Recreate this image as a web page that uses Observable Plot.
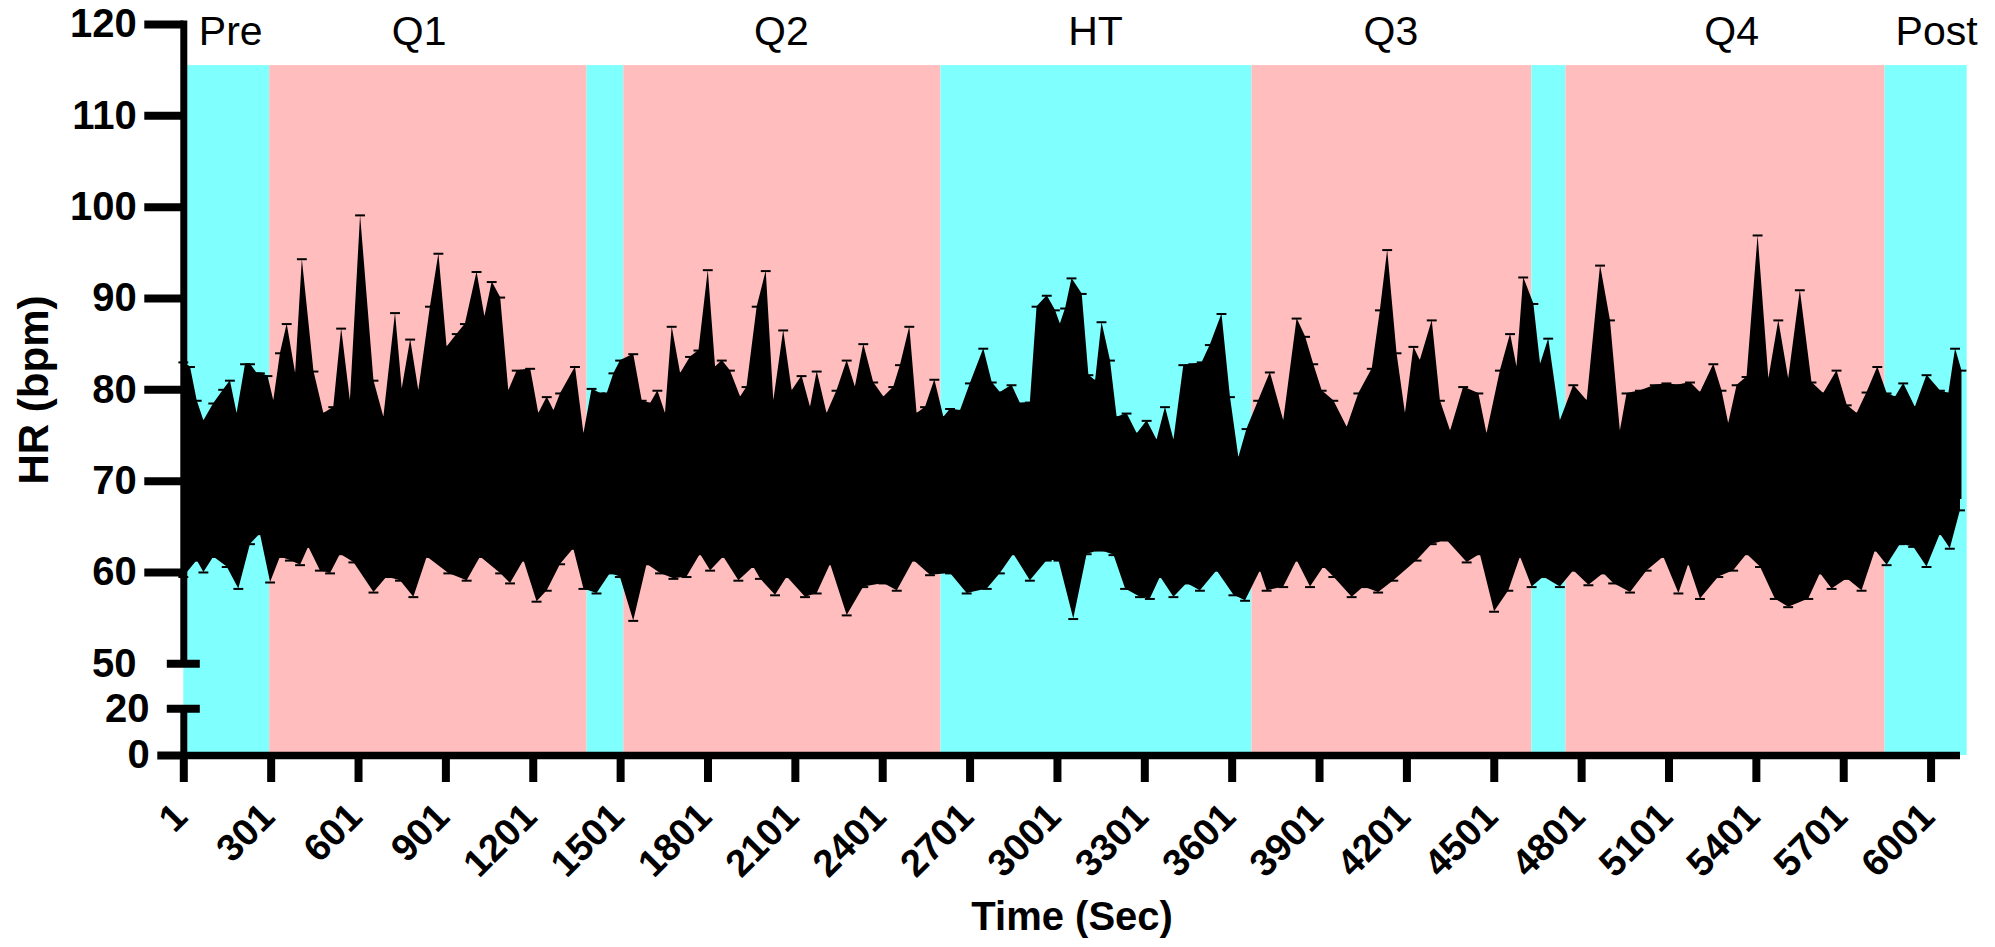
<!DOCTYPE html>
<html>
<head>
<meta charset="utf-8">
<script src="https://cdn.jsdelivr.net/npm/d3@7"></script>
<script src="https://cdn.jsdelivr.net/npm/@observablehq/plot@0.6"></script>
<style>
html, body { margin: 0; padding: 0; background: #ffffff; }
svg { display: block; }
</style>
</head>
<body>
<div id="chart"></div>
<script>
// ---- phases (background bands) ----
const phaseNames  = ["Pre", "Q1", "", "Q2", "HT", "Q3", "", "Q4", "Post"];
const phaseStart  = [1, 296, 1386, 1512, 2601, 3669, 4630, 4747, 5843];
const phaseEnd    = [296, 1386, 1512, 2601, 3669, 4630, 4747, 5843, 6125];
const phaseKind   = ["rest", "play", "rest", "play", "rest", "play", "rest", "play", "rest"];
const phaseLabelT = [162, 809, null, 2053, 3132, 4146, null, 5316, 6020];
const bandTop = 115.5;
const labelY = 117.75;

// ---- upper envelope of HR error bars (time in sec, bpm) ----
const upperT = [1,24,47,70,104,138,161,184,213,230,253,264,290,310,333,356,385,408,448,482,516,543,573,608,654,688,728,751,780,808,848,877,905,940,968,1008,1035,1060,1089,1117,1146,1192,1220,1249,1272,1295,1346,1375,1403,1432,1455,1478,1501,1546,1575,1604,1629,1655,1678,1707,1741,1770,1802,1827,1850,1878,1913,1935,1970,2001,2027,2061,2090,2124,2153,2176,2210,2244,2279,2307,2336,2370,2405,2439,2462,2494,2519,2548,2580,2611,2634,2668,2702,2748,2777,2805,2845,2874,2908,2931,2966,2994,3011,3029,3051,3086,3109,3132,3154,3183,3206,3240,3275,3309,3343,3372,3401,3435,3469,3498,3526,3566,3595,3624,3652,3692,3732,3778,3824,3853,3881,3910,3950,3996,4036,4082,4110,4135,4167,4196,4225,4247,4288,4316,4351,4396,4448,4476,4522,4557,4579,4602,4637,4660,4688,4728,4774,4820,4866,4900,4934,4957,5003,5054,5094,5129,5175,5209,5255,5283,5306,5335,5369,5407,5444,5478,5512,5552,5592,5632,5678,5713,5747,5781,5818,5850,5879,5907,5947,5987,6033,6062,6085,6107];
const upperV = [83.0,82.5,78.8,76.6,78.5,80.0,81.0,77.4,82.8,82.8,81.8,81.8,81.5,78.8,84.0,87.2,81.8,94.3,82.0,77.4,78.1,86.7,78.8,99.1,81.0,77.0,88.4,80.1,85.5,79.9,89.1,94.9,84.7,86.1,87.2,92.9,88.0,91.8,90.1,79.9,82.1,82.3,77.4,79.2,77.7,79.6,82.5,75.2,80.1,79.6,79.6,81.8,83.2,83.9,78.8,78.5,79.9,77.4,86.9,81.8,83.6,84.3,93.1,82.5,83.2,82.1,79.2,80.3,89.1,93.0,78.8,86.5,79.9,81.5,78.1,82.0,77.4,79.9,83.2,80.3,85.0,80.8,79.2,80.3,82.7,86.9,77.4,78.1,81.1,77.0,77.9,77.7,80.7,84.5,80.8,79.7,80.5,78.5,78.6,89.1,90.3,88.7,87.2,88.9,92.2,90.5,81.6,81.0,87.4,83.2,77.0,77.4,75.2,76.6,74.5,78.1,74.5,82.7,82.8,83.0,84.9,88.3,79.2,72.6,75.7,78.8,81.9,76.6,87.8,85.8,82.8,79.9,78.8,75.9,79.6,82.3,88.7,95.3,84.0,77.4,84.7,83.2,87.6,78.8,75.5,80.3,79.6,75.2,82.1,86.1,82.5,92.3,89.4,82.8,85.6,76.6,80.5,78.8,93.6,87.6,75.5,79.6,79.9,80.5,80.7,80.5,80.8,79.7,82.8,79.9,76.3,80.5,81.4,96.9,81.2,87.6,81.2,90.9,80.8,79.6,82.1,78.3,77.4,79.7,82.5,79.6,79.2,80.7,78.1,81.6,79.9,79.6,84.5,82.1];

// ---- lower envelope of HR error bars ----
const lowerT = [1,47,70,104,150,190,230,264,299,333,367,402,430,470,505,539,585,654,699,745,791,837,911,974,1020,1089,1123,1169,1214,1249,1295,1340,1375,1420,1466,1500,1546,1592,1638,1684,1729,1775,1810,1855,1907,1958,1981,2033,2073,2136,2176,2222,2279,2336,2405,2451,2508,2565,2634,2691,2760,2805,2851,2908,2966,3006,3057,3103,3149,3195,3235,3286,3320,3355,3401,3446,3492,3549,3607,3647,3698,3721,3778,3824,3870,3916,3950,4013,4053,4104,4156,4236,4288,4339,4408,4453,4502,4551,4591,4631,4671,4728,4774,4826,4877,4911,4969,5026,5083,5135,5169,5209,5272,5323,5369,5415,5466,5512,5581,5621,5661,5713,5764,5810,5850,5896,5941,5987,6033,6067,6102];
const lowerV = [59.5,61.3,60.0,61.7,60.6,58.2,63.1,64.2,58.9,61.7,61.3,60.8,62.8,60.2,59.9,62.0,61.1,57.8,59.5,59.1,57.3,61.7,59.9,59.1,61.7,59.9,58.8,61.3,56.8,58.0,60.9,62.6,58.2,57.7,59.9,59.5,54.7,60.9,59.9,59.3,59.5,62.0,60.2,61.7,59.1,60.6,59.3,57.5,59.5,57.3,57.7,60.9,55.3,58.4,58.8,58.0,61.3,59.7,59.9,57.7,58.2,59.9,62.0,59.1,61.3,61.3,54.9,62.0,62.4,61.9,58.2,57.3,57.1,59.5,57.3,58.8,58.0,60.2,57.5,56.9,60.2,58.0,58.4,61.3,58.4,60.6,59.5,57.3,58.4,57.8,59.1,61.3,63.1,63.5,61.1,62.0,55.7,58.0,61.7,58.4,59.5,58.4,60.2,58.6,59.9,58.8,57.8,60.2,61.7,57.7,60.9,57.1,59.5,60.2,62.0,60.6,57.1,56.2,57.1,59.9,58.2,59.3,58.0,62.4,60.8,63.1,62.8,60.6,64.2,62.6,66.8];

// solid core of the band (overlapping so no seam)
const upperBase = 68;
const lowerTop = 72;

// ---- axis ticks ----
const xTicks = [1,301,601,901,1201,1501,1801,2101,2401,2701,3001,3301,3601,3901,4201,4501,4801,5101,5401,5701,6001];
const yTicksUpper = [60, 70, 80, 90, 100, 110, 120];

// ---- build tables ----
const colorOf = {rest: "#80ffff", play: "#ffbdbd"};
const phases = phaseNames.map((name, i) => ({name, start: phaseStart[i], end: phaseEnd[i], kind: phaseKind[i], lt: phaseLabelT[i]}));
const upper = upperT.map((t, i) => ({t, v: upperV[i]}));
const lower = lowerT.map((t, i) => ({t, v: lowerV[i]}));

const font = "'Liberation Sans', Arial, Helvetica, sans-serif";
const capHalf = 17;

const chart = Plot.plot({
  width: 1995,
  height: 947,
  marginLeft: 183.3,
  marginRight: 35,
  marginTop: 24,
  marginBottom: 192,
  style: {fontFamily: font, background: "#ffffff", color: "#000000", overflow: "visible"},
  x: {domain: [1, 6102]},
  y: {type: "linear", domain: [0, 20, 50, 120], range: [755, 708.3, 663.3, 24]},
  color: {type: "identity"},
  marks: [
    Plot.rectY(phases, {x1: "start", x2: "end", y1: 0, y2: bandTop, fill: d => colorOf[d.kind]}),
    Plot.areaY(upper, {x: "t", y1: upperBase, y2: "v", fill: "#000000", curve: "linear"}),
    Plot.areaY(lower, {x: "t", y1: "v", y2: lowerTop, fill: "#000000", curve: "linear"}),
    Plot.ruleY(upper, {y: "v", x1: d => d.t - capHalf, x2: d => d.t + capHalf, stroke: "#000000", strokeWidth: 2}),
    Plot.ruleY(lower, {y: "v", x1: d => d.t - capHalf, x2: d => d.t + capHalf, stroke: "#000000", strokeWidth: 2}),
    Plot.text(phases.filter(d => d.name), {x: "lt", y: labelY, text: "name", fontSize: 41, textAnchor: "middle", lineAnchor: "bottom", fill: "#000000"}),
    // x axis line
    Plot.ruleY([0], {stroke: "#000000", strokeWidth: 7.5}),
    // y axis line (broken)
    Plot.ruleX([1], {y1: 50, y2: 120, stroke: "#000000", strokeWidth: 7, strokeLinecap: "square"}),
    Plot.ruleX([1], {y1: 0, y2: 20, stroke: "#000000", strokeWidth: 7}),
    // y ticks
    Plot.axisY({ticks: yTicksUpper, tickSize: 39, tickPadding: 8, strokeWidth: 8, fontSize: 40, fontWeight: "bold", label: null}),
    Plot.axisY({ticks: [0], tickSize: 26, tickPadding: 8, strokeWidth: 8, fontSize: 40, fontWeight: "bold", label: null}),
    Plot.axisY({ticks: [50], tickSize: 33, dx: 16.5, tickPadding: 30.8, strokeWidth: 8, fontSize: 40, fontWeight: "bold", label: null}),
    Plot.axisY({ticks: [20], tickSize: 33, dx: 16.5, tickPadding: 17.8, strokeWidth: 8, fontSize: 40, fontWeight: "bold", label: null}),
    // x ticks and labels
    Plot.axisX({ticks: xTicks, tickSize: 27, strokeWidth: 8, fill: "none", label: null}),
    Plot.axisX({ticks: xTicks, tickFormat: d => String(d), tickSize: 0, tickRotate: -45, tickPadding: 55, dx: -3, fontSize: 38, fontWeight: "bold", label: null}),
    // axis titles
    Plot.text(["HR (bpm)"], {frameAnchor: "left", dx: -149, rotate: -90, fontSize: 42, fontWeight: "bold", textAnchor: "middle", lineAnchor: "middle", fill: "#000000"}),
    Plot.text(["Time (Sec)"], {frameAnchor: "bottom", dy: 162, fontSize: 40, fontWeight: "bold", textAnchor: "middle", lineAnchor: "middle", fill: "#000000"})
  ]
});
document.getElementById("chart").appendChild(chart);
</script>
</body>
</html>
